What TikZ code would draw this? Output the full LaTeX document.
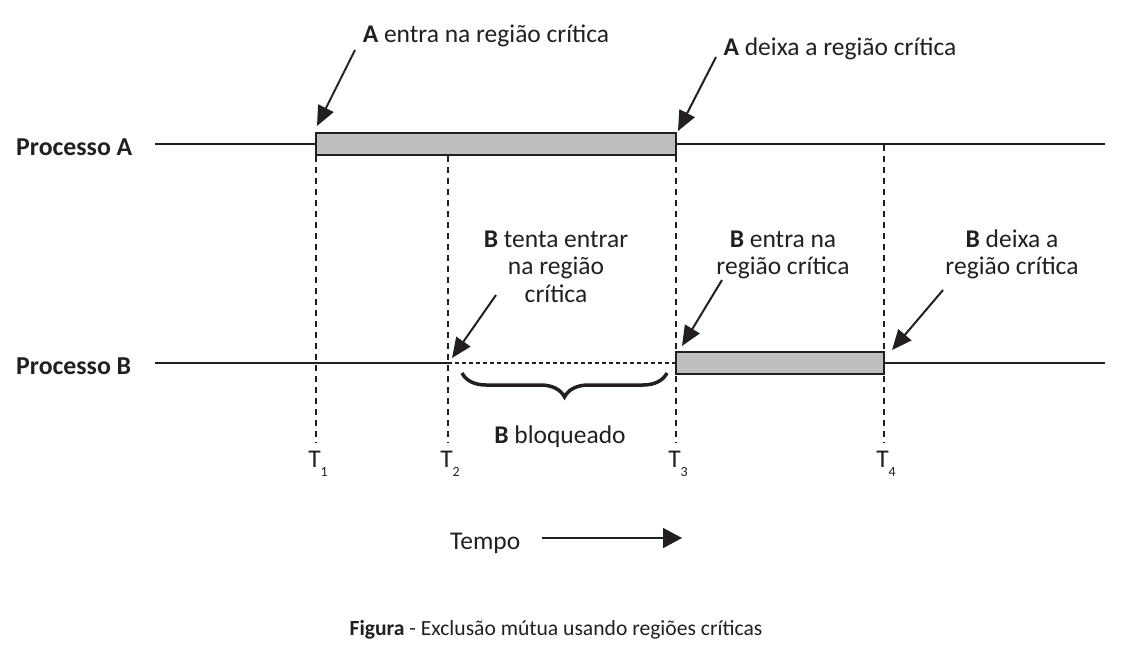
\documentclass[tikz,border=0pt]{standalone}
\usepackage{fontspec}
\setmainfont{Carlito}
\usepackage{xcolor}
\usetikzlibrary{arrows.meta,decorations.pathreplacing}
\definecolor{ink}{RGB}{35,31,32}
\definecolor{critgray}{RGB}{188,190,192}

\begin{document}
\begin{tikzpicture}[x=1pt,y=-1pt,
  txt/.style={font=\fontsize{25.5}{27.5}\selectfont,text=ink,align=center,inner sep=0pt,anchor=base},
  proc/.style={font=\fontsize{25.8}{27.5}\selectfont\bfseries,text=ink,inner sep=0pt,anchor=west},
  timeline/.style={draw=ink,line width=2pt},
  waitline/.style={draw=ink,line width=1.6pt,dash pattern=on 4pt off 3pt},
  guide/.style={draw=ink,line width=1.5pt,dash pattern=on 6pt off 5pt},
  crit/.style={draw=ink,fill=critgray,line width=2pt,minimum height=22pt,inner sep=0pt},
  pointer/.style={draw=ink,line width=2pt,-{Triangle[length=20pt,width=17pt]}},
  waitbrace/.style={draw=ink,line width=3.5pt,decorate,decoration={brace,mirror,amplitude=24pt}}]
 \useasboundingbox (0,0) rectangle (1124,658);
 \foreach \x/\top/\n in {316/156/1,448/156/2,676/156/3,884/145/4}{
  \draw[guide] (\x,\top) -- (\x,443);
  \node[txt] (T\n) at (\x-1.5,467) {T\rlap{\raisebox{-9pt}{\fontsize{14}{14}\selectfont\n}}};
 }
 \node[proc] (procA) at (16,147) {Processo A};
 \node[proc] (procB) at (16,366) {Processo B};
 \coordinate (startA) at (155,144);
 \coordinate (endA) at (1105,144);
 \coordinate (startB) at (155,363);
 \coordinate (blockB) at (448,363);
 \coordinate (endB) at (1105,363);
 \draw[timeline] (startA) -- (endA);
 \draw[timeline] (startB) -- (blockB);
 \draw[timeline] (blockB -| 884,0) -- (endB);
 \draw[waitline] (blockB) -- (676,363);
 \node[crit,minimum width=360pt] (barA) at (496,144) {};
 \node[crit,minimum width=208pt] (barB) at (780,363) {};
 \node[txt] (aIn) at (486,43) {{\bfseries A} entra na região crítica};
 \node[txt] (aOut) at (840,56) {{\bfseries A} deixa a região crítica};
 \node[txt] (bTry) at (556,302) {{\bfseries B} tenta entrar\\na região\\crítica};
 \node[txt] (bIn) at (783,274.5) {{\bfseries B} entra na\\região crítica};
 \node[txt] (bOut) at (1012,274.5) {{\bfseries B} deixa a\\região crítica};
 \coordinate (aInTail) at (355,50);
 \coordinate (aOutTail) at (716,57);
 \coordinate (bTryTail) at (496,295);
 \coordinate (bInTail) at (722,280);
 \coordinate (bOutTail) at (943,290);
 \draw[pointer] (aInTail) -- (317,126);
 \draw[pointer] (aOutTail) -- (678,131);
 \draw[pointer] (bTryTail) -- (452,358);
 \draw[pointer] (bInTail) -- (682,346);
 \draw[pointer] (bOutTail) -- (892,350);
 \draw[waitbrace] (462,373) -- (667,373);
 \node[txt] (blocked) at (560,443) {{\bfseries B} bloqueado};
 \node[txt,anchor=base west] (tempo) at (450,549) {Tempo};
 \coordinate (tEnd) at (682,538);
 \draw[draw=ink,line width=1.5pt,-{Triangle[length=19pt,width=20pt]}] ([xshift=22pt]tempo.east |- tEnd) -- (tEnd);
 \node[txt,font=\fontsize{21.6}{24}\selectfont] (caption) at (556,635) {{\bfseries Figura} - Exclusão mútua usando regiões críticas};
\end{tikzpicture}
\end{document}
